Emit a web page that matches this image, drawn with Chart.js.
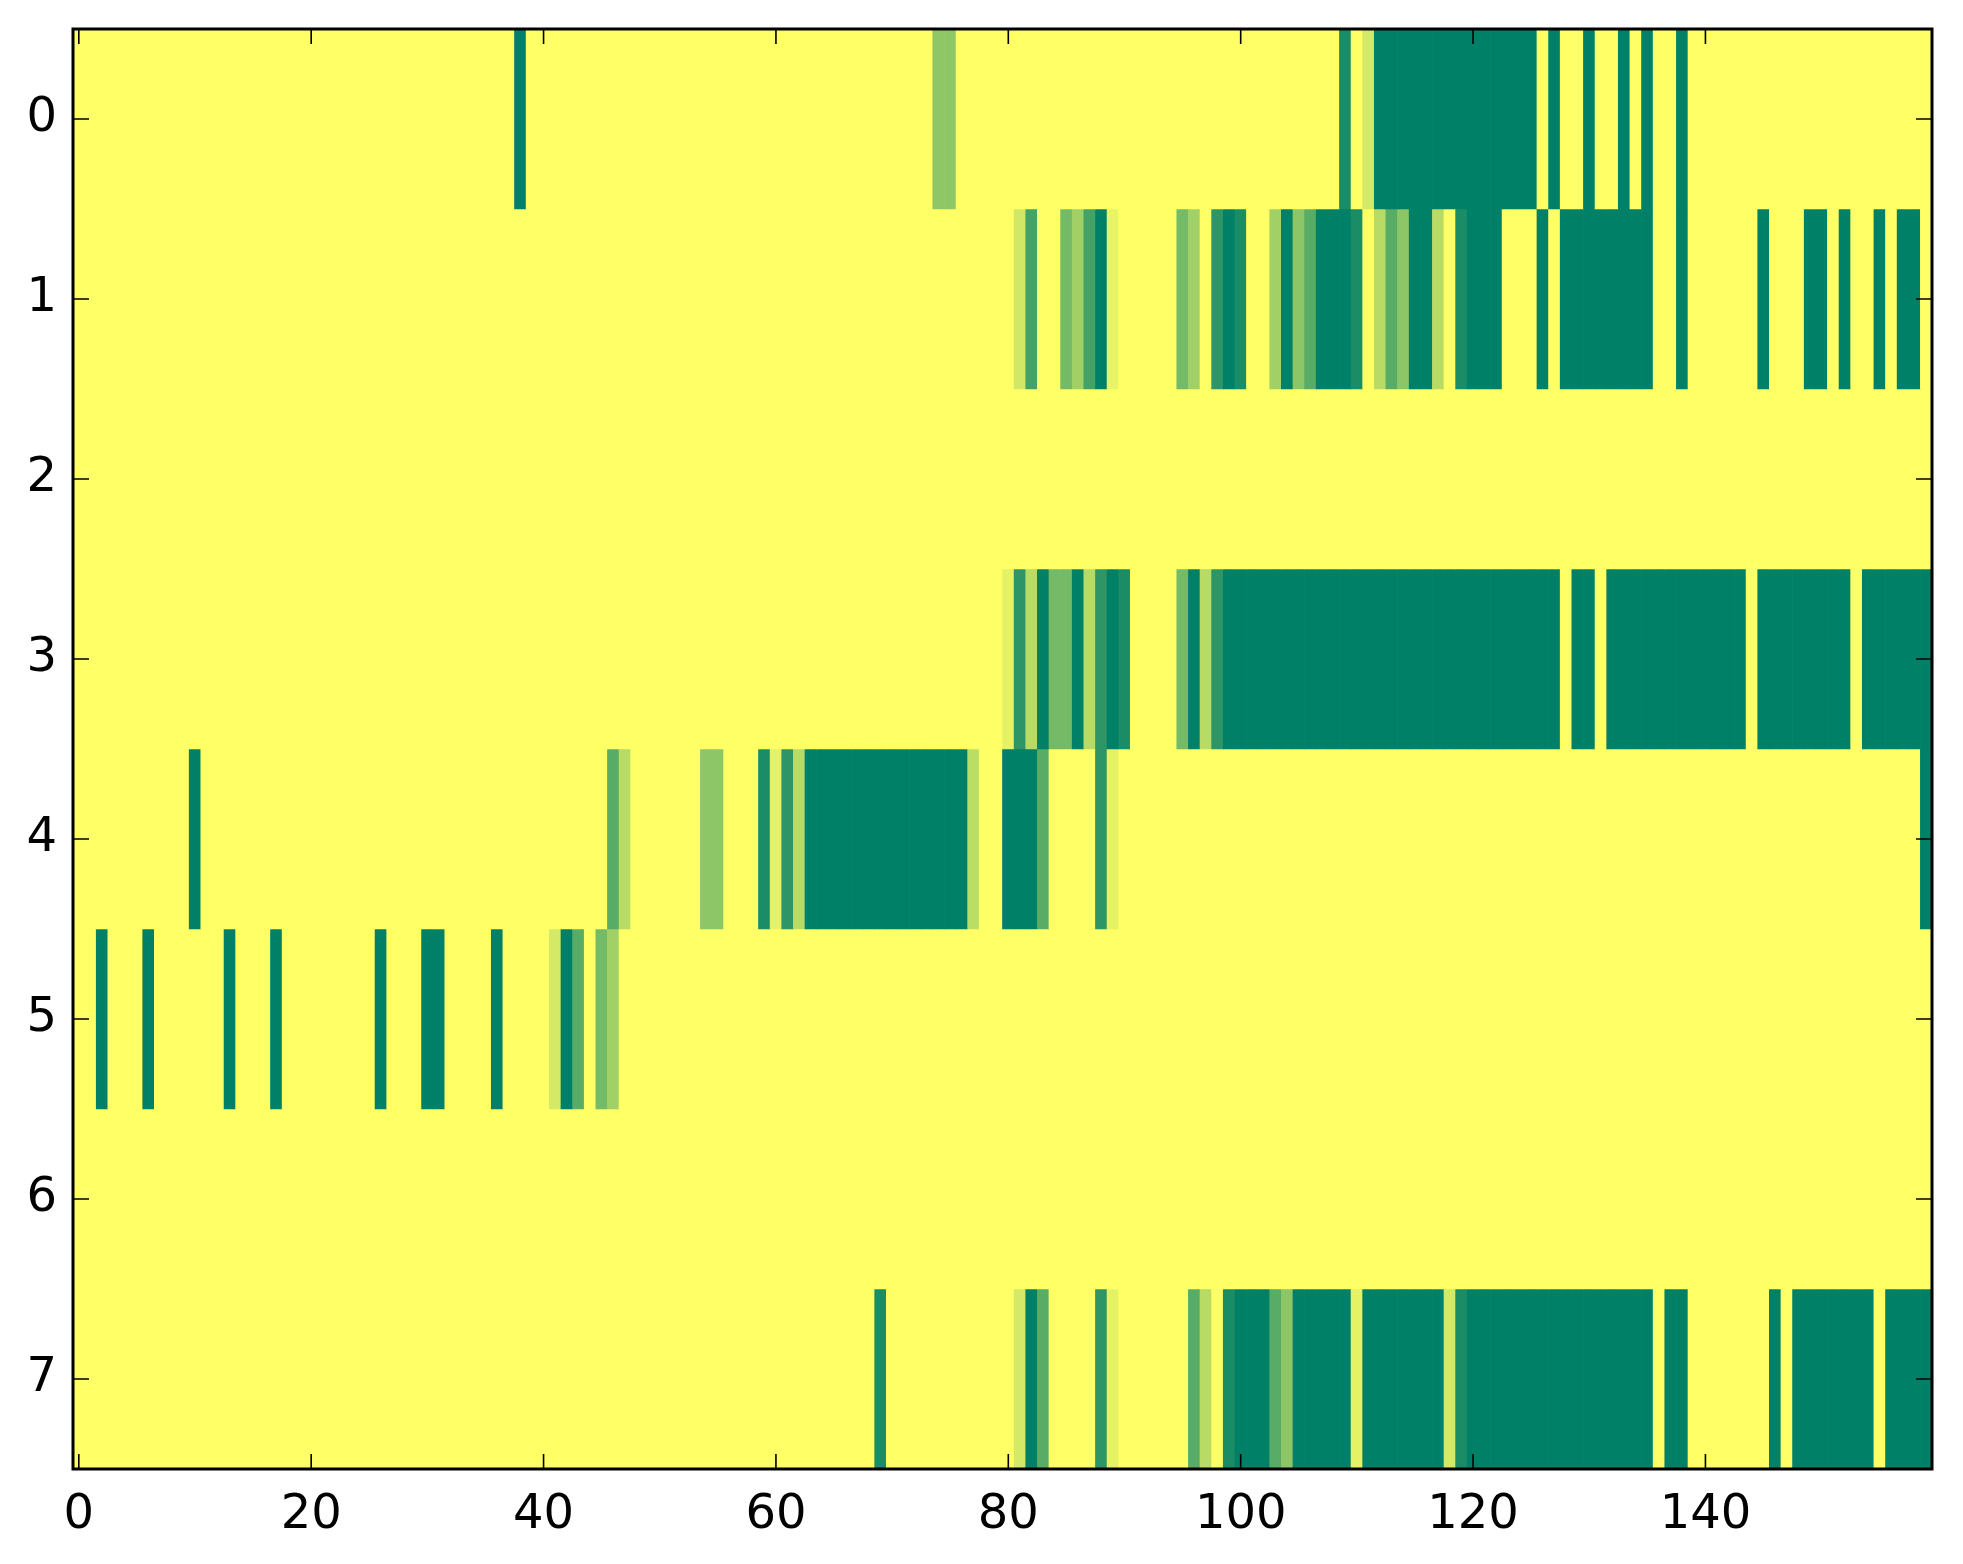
<!DOCTYPE html>
<html>
<head>
<meta charset="utf-8">
<script src="https://cdn.jsdelivr.net/npm/chart.js@4.4.1/dist/chart.umd.min.js"></script>
<style>
  html, body { margin: 0; padding: 0; background: #ffffff; }
  #wrap { width: 1963px; height: 1564px; }
</style>
</head>
<body>
<div id="wrap"><canvas id="heat"></canvas></div>
<script>
// one array per image row, 160 cells each (values 0..1)
const row0 = [
  1, 1, 1, 1, 1, 1, 1, 1, 1, 1, 1, 1, 1, 1, 1, 1, 1, 1, 1, 1,
  1, 1, 1, 1, 1, 1, 1, 1, 1, 1, 1, 1, 1, 1, 1, 1, 1, 1, 0, 1,
  1, 1, 1, 1, 1, 1, 1, 1, 1, 1, 1, 1, 1, 1, 1, 1, 1, 1, 1, 1,
  1, 1, 1, 1, 1, 1, 1, 1, 1, 1, 1, 1, 1, 1, 0.56, 0.56, 1, 1, 1, 1,
  1, 1, 1, 1, 1, 1, 1, 1, 1, 1, 1, 1, 1, 1, 1, 1, 1, 1, 1, 1,
  1, 1, 1, 1, 1, 1, 1, 1, 1, 0.1, 1, 0.83, 0, 0, 0, 0, 0, 0, 0, 0,
  0, 0, 0, 0, 0, 0, 1, 0, 1, 1, 0, 1, 1, 0, 1, 0, 1, 1, 0, 1,
  1, 1, 1, 1, 1, 1, 1, 1, 1, 1, 1, 1, 1, 1, 1, 1, 1, 1, 1, 1
];
const row1 = [
  1, 1, 1, 1, 1, 1, 1, 1, 1, 1, 1, 1, 1, 1, 1, 1, 1, 1, 1, 1,
  1, 1, 1, 1, 1, 1, 1, 1, 1, 1, 1, 1, 1, 1, 1, 1, 1, 1, 1, 1,
  1, 1, 1, 1, 1, 1, 1, 1, 1, 1, 1, 1, 1, 1, 1, 1, 1, 1, 1, 1,
  1, 1, 1, 1, 1, 1, 1, 1, 1, 1, 1, 1, 1, 1, 1, 1, 1, 1, 1, 1,
  1, 0.82, 0.27, 1, 1, 0.46, 0.63, 0.27, 0, 0.91, 1, 1, 1, 1, 1, 0.46, 0.63, 1, 0.18, 0,
  0.1, 1, 1, 0.63, 0, 0.55, 0.35, 0, 0, 0, 0.1, 1, 0.72, 0.35, 0.55, 0, 0, 0.72, 1, 0.1,
  0, 0, 0, 1, 1, 1, 0, 1, 0, 0, 0, 0, 0, 0, 0, 0, 1, 1, 0, 1,
  1, 1, 1, 1, 1, 0, 1, 1, 1, 0, 0, 1, 0, 1, 1, 0, 1, 0, 0, 1
];
const row2 = [
  1, 1, 1, 1, 1, 1, 1, 1, 1, 1, 1, 1, 1, 1, 1, 1, 1, 1, 1, 1,
  1, 1, 1, 1, 1, 1, 1, 1, 1, 1, 1, 1, 1, 1, 1, 1, 1, 1, 1, 1,
  1, 1, 1, 1, 1, 1, 1, 1, 1, 1, 1, 1, 1, 1, 1, 1, 1, 1, 1, 1,
  1, 1, 1, 1, 1, 1, 1, 1, 1, 1, 1, 1, 1, 1, 1, 1, 1, 1, 1, 1,
  1, 1, 1, 1, 1, 1, 1, 1, 1, 1, 1, 1, 1, 1, 1, 1, 1, 1, 1, 1,
  1, 1, 1, 1, 1, 1, 1, 1, 1, 1, 1, 1, 1, 1, 1, 1, 1, 1, 1, 1,
  1, 1, 1, 1, 1, 1, 1, 1, 1, 1, 1, 1, 1, 1, 1, 1, 1, 1, 1, 1,
  1, 1, 1, 1, 1, 1, 1, 1, 1, 1, 1, 1, 1, 1, 1, 1, 1, 1, 1, 1
];
const row3 = [
  1, 1, 1, 1, 1, 1, 1, 1, 1, 1, 1, 1, 1, 1, 1, 1, 1, 1, 1, 1,
  1, 1, 1, 1, 1, 1, 1, 1, 1, 1, 1, 1, 1, 1, 1, 1, 1, 1, 1, 1,
  1, 1, 1, 1, 1, 1, 1, 1, 1, 1, 1, 1, 1, 1, 1, 1, 1, 1, 1, 1,
  1, 1, 1, 1, 1, 1, 1, 1, 1, 1, 1, 1, 1, 1, 1, 1, 1, 1, 1, 1,
  0.9, 0.18, 0.72, 0, 0.46, 0.46, 0, 0.72, 0.18, 0, 0.1, 1, 1, 1, 1, 0.46, 0, 0.72, 0.18, 0,
  0, 0, 0, 0, 0, 0, 0, 0, 0, 0, 0, 0, 0, 0, 0, 0, 0, 0, 0, 0,
  0, 0, 0, 0, 0, 0, 0, 0, 1, 0, 0, 1, 0, 0, 0, 0, 0, 0, 0, 0,
  0, 0, 0, 0, 1, 0, 0, 0, 0, 0, 0, 0, 0, 1, 0, 0, 0, 0, 0, 0
];
const row4 = [
  1, 1, 1, 1, 1, 1, 1, 1, 1, 1, 0, 1, 1, 1, 1, 1, 1, 1, 1, 1,
  1, 1, 1, 1, 1, 1, 1, 1, 1, 1, 1, 1, 1, 1, 1, 1, 1, 1, 1, 1,
  1, 1, 1, 1, 1, 1, 0.35, 0.72, 1, 1, 1, 1, 1, 1, 0.55, 0.55, 1, 1, 1, 0.1,
  0.9, 0.18, 0.72, 0, 0, 0, 0, 0, 0, 0, 0, 0, 0, 0, 0, 0, 0, 0.73, 1, 1,
  0, 0, 0, 0.35, 1, 1, 1, 1, 0.18, 0.9, 1, 1, 1, 1, 1, 1, 1, 1, 1, 1,
  1, 1, 1, 1, 1, 1, 1, 1, 1, 1, 1, 1, 1, 1, 1, 1, 1, 1, 1, 1,
  1, 1, 1, 1, 1, 1, 1, 1, 1, 1, 1, 1, 1, 1, 1, 1, 1, 1, 1, 1,
  1, 1, 1, 1, 1, 1, 1, 1, 1, 1, 1, 1, 1, 1, 1, 1, 1, 1, 1, 0
];
const row5 = [
  1, 1, 0, 1, 1, 1, 0, 1, 1, 1, 1, 1, 1, 0, 1, 1, 1, 0, 1, 1,
  1, 1, 1, 1, 1, 1, 0, 1, 1, 1, 0, 0, 1, 1, 1, 1, 0, 1, 1, 1,
  1, 0.83, 0, 0.35, 1, 0.46, 0.63, 1, 1, 1, 1, 1, 1, 1, 1, 1, 1, 1, 1, 1,
  1, 1, 1, 1, 1, 1, 1, 1, 1, 1, 1, 1, 1, 1, 1, 1, 1, 1, 1, 1,
  1, 1, 1, 1, 1, 1, 1, 1, 1, 1, 1, 1, 1, 1, 1, 1, 1, 1, 1, 1,
  1, 1, 1, 1, 1, 1, 1, 1, 1, 1, 1, 1, 1, 1, 1, 1, 1, 1, 1, 1,
  1, 1, 1, 1, 1, 1, 1, 1, 1, 1, 1, 1, 1, 1, 1, 1, 1, 1, 1, 1,
  1, 1, 1, 1, 1, 1, 1, 1, 1, 1, 1, 1, 1, 1, 1, 1, 1, 1, 1, 1
];
const row6 = [
  1, 1, 1, 1, 1, 1, 1, 1, 1, 1, 1, 1, 1, 1, 1, 1, 1, 1, 1, 1,
  1, 1, 1, 1, 1, 1, 1, 1, 1, 1, 1, 1, 1, 1, 1, 1, 1, 1, 1, 1,
  1, 1, 1, 1, 1, 1, 1, 1, 1, 1, 1, 1, 1, 1, 1, 1, 1, 1, 1, 1,
  1, 1, 1, 1, 1, 1, 1, 1, 1, 1, 1, 1, 1, 1, 1, 1, 1, 1, 1, 1,
  1, 1, 1, 1, 1, 1, 1, 1, 1, 1, 1, 1, 1, 1, 1, 1, 1, 1, 1, 1,
  1, 1, 1, 1, 1, 1, 1, 1, 1, 1, 1, 1, 1, 1, 1, 1, 1, 1, 1, 1,
  1, 1, 1, 1, 1, 1, 1, 1, 1, 1, 1, 1, 1, 1, 1, 1, 1, 1, 1, 1,
  1, 1, 1, 1, 1, 1, 1, 1, 1, 1, 1, 1, 1, 1, 1, 1, 1, 1, 1, 1
];
const row7 = [
  1, 1, 1, 1, 1, 1, 1, 1, 1, 1, 1, 1, 1, 1, 1, 1, 1, 1, 1, 1,
  1, 1, 1, 1, 1, 1, 1, 1, 1, 1, 1, 1, 1, 1, 1, 1, 1, 1, 1, 1,
  1, 1, 1, 1, 1, 1, 1, 1, 1, 1, 1, 1, 1, 1, 1, 1, 1, 1, 1, 1,
  1, 1, 1, 1, 1, 1, 1, 1, 1, 0.1, 1, 1, 1, 1, 1, 1, 1, 1, 1, 1,
  1, 0.83, 0, 0.35, 1, 1, 1, 1, 0.18, 0.9, 1, 1, 1, 1, 1, 1, 0.35, 0.72, 1, 0.1,
  0, 0, 0, 0.35, 0.55, 0, 0, 0, 0, 0, 0.9, 0, 0, 0, 0, 0, 0, 0, 0.83, 0.1,
  0, 0, 0, 0, 0, 0, 0, 0, 0, 0, 0, 0, 0, 0, 0, 0, 1, 0, 0, 1,
  1, 1, 1, 1, 1, 1, 0, 1, 0, 0, 0, 0, 0, 0, 0, 1, 0, 0, 0, 0
];

const rows = [row0, row1, row2, row3, row4, row5, row6, row7];
const xTickValues = [0, 20, 40, 60, 80, 100, 120, 140];
const yTickValues = [0, 1, 2, 3, 4, 5, 6, 7];

// matplotlib "summer": r = v, g = 0.5 + 0.5v, b = 0.4
function summer(v) {
  const r = Math.round(255 * v);
  const g = Math.round(127.5 + 127.5 * v);
  return `rgb(${r}, ${g}, 102)`;
}

const datasets = rows.map((values, r) => ({
  data: values.map((v, i) => ({ x: i, y: [r - 0.5, r + 0.5] })),
  backgroundColor: values.map(summer),
  borderWidth: 0,
  grouped: false,
  barPercentage: 1,
  categoryPercentage: 1
}));

// frame + inward ticks on all four sides, like the matplotlib axes
const frameTicks = {
  id: 'frameTicks',
  afterDatasetsDraw(chart) {
    const { ctx, chartArea: a, scales } = chart;
    ctx.save();
    ctx.strokeStyle = '#000';
    ctx.lineWidth = 1.6;
    ctx.beginPath();
    scales.x.ticks.forEach(t => {
      const px = scales.x.getPixelForValue(t.value);
      ctx.moveTo(px, a.bottom); ctx.lineTo(px, a.bottom - 15);
      ctx.moveTo(px, a.top); ctx.lineTo(px, a.top + 15);
    });
    scales.y.ticks.forEach(t => {
      const py = scales.y.getPixelForValue(t.value);
      ctx.moveTo(a.left, py); ctx.lineTo(a.left + 16, py);
      ctx.moveTo(a.right, py); ctx.lineTo(a.right - 16, py);
    });
    ctx.stroke();
    ctx.lineWidth = 3;
    ctx.strokeRect(a.left, a.top, a.right - a.left, a.bottom - a.top);
    ctx.restore();
  }
};

const tickFont = { family: 'DejaVu Sans', size: 48 };

new Chart(document.getElementById('heat'), {
  type: 'bar',
  data: { datasets },
  options: {
    responsive: true,
    maintainAspectRatio: false,
    devicePixelRatio: 1,
    animation: false,
    layout: { padding: { top: 29, right: 31, left: 0, bottom: 0 } },
    plugins: { legend: { display: false }, tooltip: { enabled: false } },
    scales: {
      x: {
        type: 'linear',
        offset: false,
        min: -0.5,
        max: 159.5,
        afterBuildTicks: s => { s.ticks = xTickValues.map(v => ({ value: v })); },
        afterFit: s => {
          s.height = 95;
          s.paddingLeft = 0;
          s.paddingRight = 0;
        },
        grid: { display: false, drawTicks: false },
        border: { display: false },
        ticks: { color: '#000', font: tickFont, padding: 18, maxRotation: 0 }
      },
      y: {
        type: 'linear',
        reverse: true,
        min: -0.5,
        max: 7.5,
        afterBuildTicks: s => { s.ticks = yTickValues.map(v => ({ value: v })); },
        afterFit: s => {
          s.width = 73;
          s.paddingTop = 0;
          s.paddingBottom = 0;
        },
        grid: { display: false, drawTicks: false },
        border: { display: false },
        ticks: { color: '#000', font: tickFont, padding: 16 }
      }
    }
  },
  plugins: [frameTicks]
});
</script>
</body>
</html>
